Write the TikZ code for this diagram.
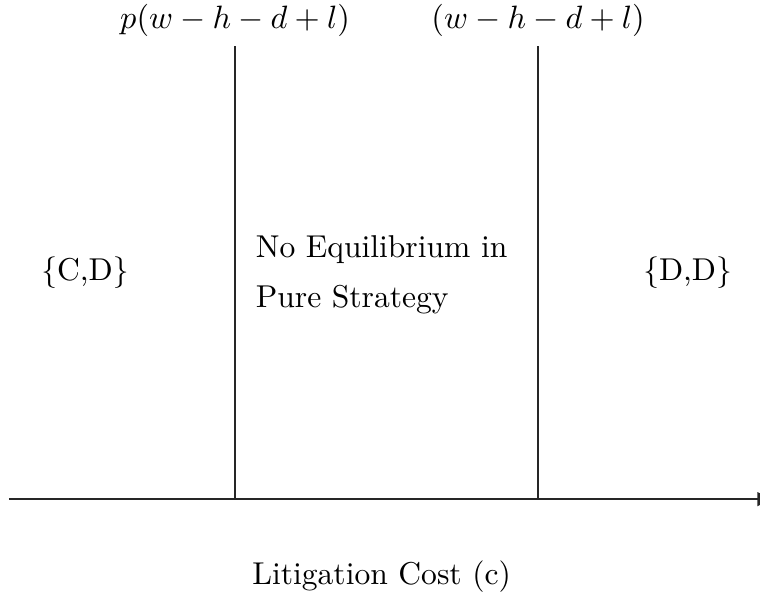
\documentclass[tikz,border=0pt]{standalone}
\usepackage{amsmath}
\usepackage{tikz}
\usetikzlibrary{arrows.meta, positioning}

\begin{document}
\begin{tikzpicture}[
  every node/.style={font=\fontsize{10.7}{13}\selectfont},
  region/.style={font=\fontsize{10.7}{17}\selectfont, align=left},
  toplabel/.style={inner sep=0.5pt},
  bound/.style={line width=0.8pt, draw=black!85},
  >=Latex
]
\useasboundingbox (0,0) rectangle (9.05,7.135);

% ── Horizontal axis ──
\coordinate (axstart) at (0.107, 1.191);
\coordinate (axend) at (9.25, 1.191);
\draw[->, bound] (axstart) -- (axend);

% ── Two thresholds ──
\coordinate (lowbot) at (2.799, 1.191);
\coordinate (lowtop) at (2.799, 6.586);
\coordinate (highbot) at (6.408, 1.191);
\coordinate (hightop) at (6.408, 6.586);
\draw[bound] (lowbot) -- (lowtop);
\draw[bound] (highbot) -- (hightop);

\node[toplabel, above=0.09cm of lowtop] (lowlab) {$p(w-h-d+l)$};
\node[toplabel, above=0.09cm of hightop] (highlab) {$(w-h-d+l)$};

% ── Regions ──
\node[region] (cd) at (1.012, 3.883) {\{C,D\}};
\node[region] (mid) at (4.544, 3.86) {No Equilibrium in\\Pure Strategy};
\node[region] (dd) at (8.188, 3.883) {\{D,D\}};

\node (axlab) at (4.544, 0.27) {Litigation Cost (c)};

\end{tikzpicture}
\end{document}
